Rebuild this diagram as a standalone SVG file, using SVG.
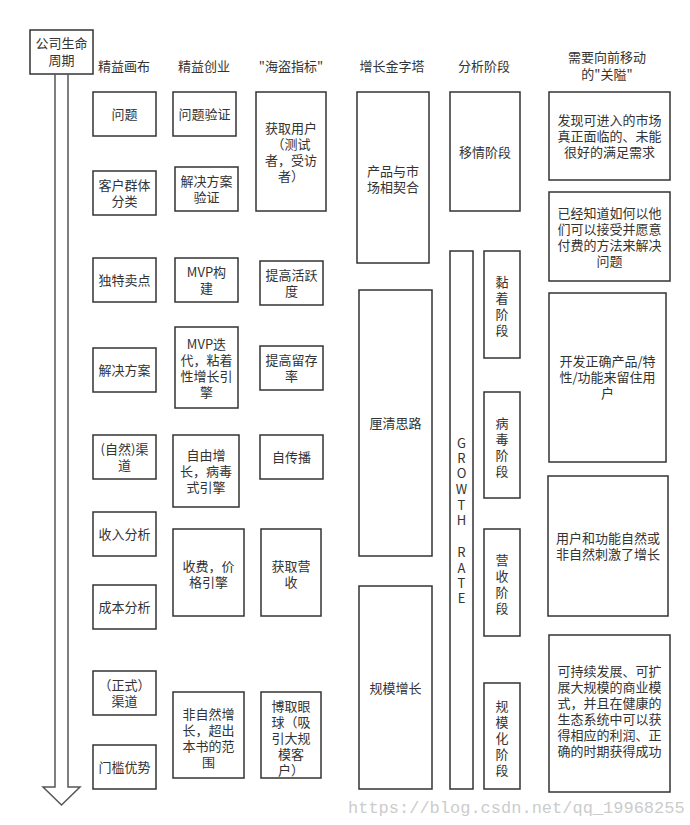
<svg xmlns="http://www.w3.org/2000/svg" width="690" height="825" viewBox="0 0 690 825">
<style>
rect{fill:#fff;stroke:#333;stroke-width:1.5}
text{font-family:"Noto Sans CJK SC","Liberation Sans",sans-serif;font-size:13px;fill:#333;text-anchor:middle}
.h{font-size:13px}
.wm{font-family:"Liberation Mono",monospace;font-size:17px;fill:#ccc;text-anchor:start}
</style>
<rect x="0" y="0" width="690" height="825" style="stroke:none"/>
<g id="lifecycle">
<rect x="30" y="30" width="63" height="44"/>
<text x="61.5" y="48">公司生命</text><text x="61.5" y="65">周期</text>
<path d="M55 74V787H43L61.5 805L80 787H68V74" fill="none" stroke="#555" stroke-width="1.5"/>
</g>
<g id="headers">
<text x="124" y="71">精益画布</text><text x="204" y="71">精益创业</text><text x="291" y="71">"海盗指标"</text>
<text x="392" y="71">增长金字塔</text><text x="484" y="71">分析阶段</text>
<text x="607" y="62">需要向前移动</text><text x="607" y="79">的"关隘"</text>
</g>
<g id="canvas">
<g id="c1"><rect x="93" y="92" width="63" height="44"/><text x="124.5" y="119">问题</text></g>
<g id="c2"><rect x="93" y="171" width="63" height="44"/><text x="124.5" y="190">客户群体</text><text x="124.5" y="206">分类</text></g>
<g id="c3"><rect x="93" y="258" width="63" height="44"/><text x="124.5" y="285">独特卖点</text></g>
<g id="c4"><rect x="93" y="348" width="63" height="44"/><text x="124.5" y="375">解决方案</text></g>
<g id="c5"><rect x="93" y="435" width="63" height="44"/><text x="124.5" y="454">(自然)渠</text><text x="124.5" y="470">道</text></g>
<g id="c6"><rect x="93" y="512" width="63" height="44"/><text x="124.5" y="539">收入分析</text></g>
<g id="c7"><rect x="93" y="585" width="63" height="44"/><text x="124.5" y="612">成本分析</text></g>
<g id="c8"><rect x="93" y="671" width="63" height="44"/><text x="124.5" y="690">（正式）</text><text x="124.5" y="706">渠道</text></g>
<g id="c9"><rect x="93" y="745" width="63" height="44"/><text x="124.5" y="772">门槛优势</text></g>
</g>
<g id="lean">
<g id="l1"><rect x="173" y="92" width="63" height="44"/><text x="204.5" y="119">问题验证</text></g>
<g id="l2"><rect x="175" y="167" width="63" height="44"/><text x="206.5" y="186">解决方案</text><text x="206.5" y="202">验证</text></g>
<g id="l3"><rect x="175" y="258" width="63" height="44"/><text x="206.5" y="277">MVP构</text><text x="206.5" y="293">建</text></g>
<g id="l4"><rect x="175" y="327" width="63" height="81"/><text x="206.5" y="349">MVP迭</text><text x="206.5" y="365">代，粘着</text><text x="206.5" y="381">性增长引</text><text x="206.5" y="397">擎</text></g>
<g id="l5"><rect x="173" y="435" width="66" height="72"/><text x="206" y="460">自由增</text><text x="206" y="476">长，病毒</text><text x="206" y="492">式引擎</text></g>
<g id="l6"><rect x="173" y="529" width="71" height="87"/><text x="208.5" y="571">收费，价</text><text x="208.5" y="587">格引擎</text></g>
<g id="l7"><rect x="173" y="692" width="71" height="86"/><text x="208.5" y="719">非自然增</text><text x="208.5" y="735">长，超出</text><text x="208.5" y="751">本书的范</text><text x="208.5" y="767">围</text></g>
</g>
<g id="pirate">
<g id="p1"><rect x="256" y="92" width="70" height="119"/><text x="291" y="133">获取用户</text><text x="291" y="149">（测试</text><text x="291" y="165">者，受访</text><text x="291" y="181">者）</text></g>
<g id="p2"><rect x="260" y="261" width="63" height="44"/><text x="291.5" y="280">提高活跃</text><text x="291.5" y="296">度</text></g>
<g id="p3"><rect x="260" y="346" width="63" height="44"/><text x="291.5" y="365">提高留存</text><text x="291.5" y="381">率</text></g>
<g id="p4"><rect x="260" y="435" width="63" height="44"/><text x="291.5" y="462">自传播</text></g>
<g id="p5"><rect x="261" y="529" width="60" height="87"/><text x="291" y="571">获取营</text><text x="291" y="587">收</text></g>
<g id="p6"><rect x="261" y="692" width="60" height="86"/><text x="291" y="711">博取眼</text><text x="291" y="727">球（吸</text><text x="291" y="743">引大规</text><text x="291" y="759">模客</text><text x="291" y="775">户）</text></g>
</g>
<g id="pyramid">
<g id="g1"><rect x="357" y="92" width="72" height="171"/><text x="393" y="176">产品与市</text><text x="393" y="192">场相契合</text></g>
<g id="g2"><rect x="359" y="290" width="73" height="266"/><text x="395.5" y="428">厘清思路</text></g>
<g id="g3"><rect x="359" y="586" width="73" height="203"/><text x="395.5" y="693">规模增长</text></g>
</g>
<g id="stages">
<g id="s1"><rect x="450" y="92" width="70" height="119"/><text x="485" y="157">移情阶段</text></g>
<g id="growth"><rect x="450" y="251" width="23" height="538"/>
<text x="461.5" y="448">G</text><text x="461.5" y="463">R</text><text x="461.5" y="478">O</text><text x="461.5" y="494">W</text><text x="461.5" y="510">T</text><text x="461.5" y="525">H</text><text x="461.5" y="557">R</text><text x="461.5" y="573">A</text><text x="461.5" y="588">T</text><text x="461.5" y="603">E</text></g>
<g id="s2"><rect x="484" y="251" width="36" height="107"/><text x="502" y="287">黏</text><text x="502" y="303">着</text><text x="502" y="319">阶</text><text x="502" y="335">段</text></g>
<g id="s3"><rect x="484" y="392" width="36" height="106"/><text x="502" y="428">病</text><text x="502" y="444">毒</text><text x="502" y="460">阶</text><text x="502" y="476">段</text></g>
<g id="s4"><rect x="484" y="529" width="36" height="107"/><text x="502" y="565">营</text><text x="502" y="581">收</text><text x="502" y="597">阶</text><text x="502" y="613">段</text></g>
<g id="s5"><rect x="484" y="683" width="36" height="106"/><text x="502" y="711">规</text><text x="502" y="727">模</text><text x="502" y="743">化</text><text x="502" y="759">阶</text><text x="502" y="775">段</text></g>
</g>
<g id="gates">
<g id="q1"><rect x="549" y="92" width="121" height="88"/><text x="609.5" y="125">发现可进入的市场</text><text x="609.5" y="141">真正面临的、未能</text><text x="609.5" y="157">很好的满足需求</text></g>
<g id="q2"><rect x="549" y="192" width="121" height="89"/><text x="609.5" y="218">已经知道如何以他</text><text x="609.5" y="234">们可以接受并愿意</text><text x="609.5" y="250">付费的方法来解决</text><text x="609.5" y="266">问题</text></g>
<g id="q3"><rect x="549" y="293" width="117" height="169"/><text x="607.5" y="366">开发正确产品/特</text><text x="607.5" y="382">性/功能来留住用</text><text x="607.5" y="398">户</text></g>
<g id="q4"><rect x="548" y="476" width="120" height="140"/><text x="608" y="543">用户和功能自然或</text><text x="608" y="559">非自然刺激了增长</text></g>
<g id="q5"><rect x="549" y="635" width="121" height="157"/><text x="609.5" y="676">可持续发展、可扩</text><text x="609.5" y="692">展大规模的商业模</text><text x="609.5" y="708">式，并且在健康的</text><text x="609.5" y="724">生态系统中可以获</text><text x="609.5" y="740">得相应的利润、正</text><text x="609.5" y="756">确的时期获得成功</text></g>
</g>
<g id="connectors"></g>
<text class="wm" x="348" y="813">https://blog.csdn.net/qq_19968255</text>
</svg>
